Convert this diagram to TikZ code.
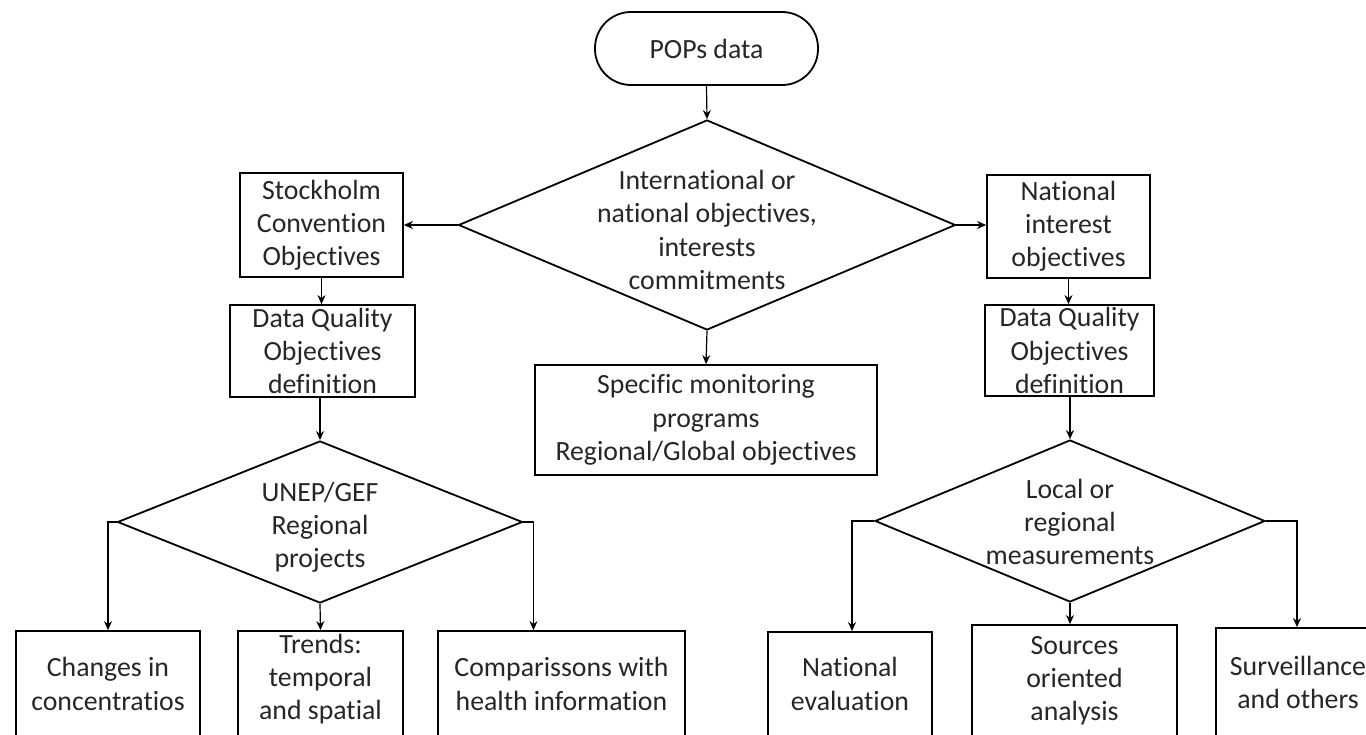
\documentclass[tikz,border=0pt]{standalone}
\usepackage{fontspec}
\setmainfont{Carlito}[Ligatures=NoCommon]
\usetikzlibrary{shapes.geometric,arrows.meta,calc}
\begin{document}
\begin{tikzpicture}[x=0.5pt,y=-0.5pt,
  every node/.style={font=\fontsize{13.9}{16.6}\selectfont, text=black!85},
  box/.style={draw, line width=0.9pt, inner sep=0pt, align=center},
  tallbox/.style={draw, line width=0.9pt, inner sep=0pt, minimum height=70pt},
  dia/.style={draw, diamond, line width=0.9pt, inner sep=0pt},
  arr/.style={-{Stealth[length=4.5pt,width=4pt]}, line width=0.6pt}]
\clip (0,0) rectangle (1366,734);
\fill[white] (0,0) rectangle (1366,734);

% top
\node[box, rounded corners=18pt, minimum width=111.5pt, minimum height=36.5pt] (pops) at (706.5,48.5) {POPs data};
\node[dia, minimum width=248.5pt, minimum height=105pt,
  label={[align=center, yshift=-2.5pt]center:{International or\\national objectives,\\interests\\commitments}}] (big) at (707,225) {};

% left column
\node[box, minimum width=81.5pt, minimum height=52pt] (stock) at (321.5,225) {Stockholm\\Convention\\Objectives};
\node[box, minimum width=92.5pt, minimum height=46pt] (dqL) at (322.5,351) {Data Quality\\Objectives\\definition};
\node[dia, minimum width=202.5pt, minimum height=81pt,
  label={[align=center, yshift=-2.5pt]center:{UNEP/GEF\\Regional\\projects}}] (unep) at (320,522) {};

% right column
\node[box, minimum width=81.5pt, minimum height=51.5pt] (nat) at (1068.5,226.5) {National\\interest\\objectives};
\node[box, minimum width=84.5pt, minimum height=45.5pt] (dqR) at (1069.5,350.5) {Data Quality\\Objectives\\definition};
\node[dia, minimum width=195pt, minimum height=81pt,
  label={[align=center, yshift=-0.5pt]center:{Local or\\regional\\measurements}}] (local) at (1070,521) {};

% centre
\node[box, minimum width=171pt, minimum height=55pt] (spec) at (706,420) {Specific monitoring\\programs\\Regional/Global objectives};

% bottom row (boxes run past the lower edge)
\node[tallbox, minimum width=92pt,
  label={[align=center, yshift=8.5pt]center:{Changes in\\concentratios}}] (changes) at (108,701) {};
\node[tallbox, minimum width=82.5pt,
  label={[align=center, yshift=11pt]center:{Trends:\\temporal\\and spatial}}] (trends) at (320.5,701) {};
\node[tallbox, minimum width=123.5pt,
  label={[align=center, yshift=8.5pt]center:{Comparissons with\\health information}}] (comp) at (561.5,701) {};
\node[tallbox, minimum width=82pt,
  label={[align=center, yshift=9pt]center:{National\\evaluation}}] (neval) at (850,702) {};
\node[tallbox, minimum width=102.5pt,
  label={[align=center, yshift=7pt]center:{Sources\\oriented\\analysis}}] (src) at (1074.5,695) {};
\node[tallbox, minimum width=82pt,
  label={[align=center, yshift=7.75pt]center:{Surveillance\\and others}}] (surv) at (1298,698) {};

% connectors
\draw[arr] (pops.south) -- (big.north);
\draw[arr] (big.west) -- (big.west -| stock.east);
\draw[arr] (big.east) -- (big.east -| nat.west);
\draw[arr] (big.south) -- (spec.north);
\draw[arr] (stock.south) -- (stock.south |- dqL.north);
\draw[arr] (dqL.south -| unep.north) -- (unep.north);
\draw[arr] (nat.south) -- (nat.south |- dqR.north);
\draw[arr] (dqR.south -| local.north) -- (local.north);
\draw[arr] (unep.west) -| (changes.north);
\draw[arr] (unep.south) -- (trends.north);
\draw[arr] (unep.east) -| ([xshift=-14pt]comp.north);
\draw[arr] (local.west) -| ([xshift=1pt]neval.north);
\draw[arr] (local.south) -- (local.south |- src.north);
\draw[arr] (local.east) -| ([xshift=-0.5pt]surv.north);
\end{tikzpicture}
\end{document}
